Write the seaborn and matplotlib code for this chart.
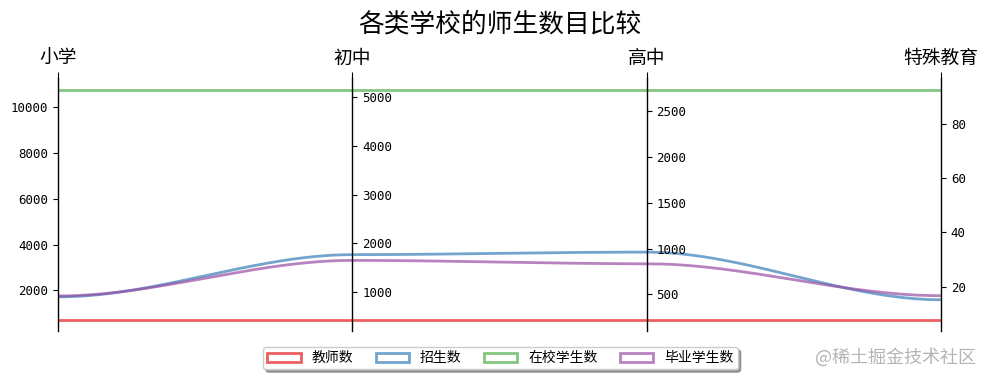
import numpy as np
import pandas as pd
import matplotlib
matplotlib.use("Agg")
import matplotlib.pyplot as plt
from matplotlib.path import Path
from matplotlib.patches import Rectangle
import seaborn as sns

# ---- data ----
axis_names = ["小学", "初中", "高中", "特殊教育"]
series_names = ["教师数", "招生数", "在校学生数", "毕业学生数"]
teachers = [732, 438, 227, 7.8]
enrolled = [1720, 1770, 962, 15.1]
students = [10743, 5150, 2729, 92.6]
graduates = [1760, 1652, 835, 16.6]

sns.set_style("ticks")
plt.rcParams["font.family"] = ["Noto Sans CJK SC", "DejaVu Sans"]
plt.rcParams["text.color"] = "black"
plt.rcParams["xtick.color"] = "black"
plt.rcParams["ytick.color"] = "black"
plt.rcParams["axes.labelcolor"] = "black"

ys = np.array([teachers, enrolled, students, graduates], dtype=float)
ymins = ys.min(axis=0)
ymaxs = ys.max(axis=0)
dys = ymaxs - ymins
ymins = ymins - dys * 0.05
ymaxs = ymaxs + dys * 0.05
dys = ymaxs - ymins

zs = np.zeros_like(ys)
zs[:, 0] = ys[:, 0]
zs[:, 1:] = (ys[:, 1:] - ymins[1:]) / dys[1:] * dys[0] + ymins[0]

palette = sns.color_palette("Set1", 4)
n = ys.shape[1]

fig = plt.figure(figsize=(9.89, 3.79), dpi=100)
host = fig.add_axes([0.0586, 0.1266, 0.8929, 0.6663])
axes = [host] + [host.twinx() for _ in range(n - 1)]
for i, ax in enumerate(axes):
    ax.set_ylim(ymins[i], ymaxs[i])
    ax.spines["top"].set_visible(False)
    ax.spines["bottom"].set_visible(False)
    for s in ax.spines.values():
        s.set_color("black")
        s.set_linewidth(1.0)
    ax.tick_params(axis="y", colors="black", length=3.5, width=0.8, labelsize=9)
    if ax is not host:
        ax.spines["left"].set_visible(False)
        ax.yaxis.set_ticks_position("right")
        ax.spines["right"].set_position(("axes", i / (n - 1)))
    for lab in ax.get_yticklabels():
        lab.set_fontfamily("DejaVu Sans Mono")
        lab.set_fontsize(9)
        lab.set_color("black")

host.set_xlim(0, n - 1)
host.set_xticks(range(n))
host.set_xticklabels(axis_names, fontsize=13.5, color="black")
host.tick_params(axis="x", which="major", pad=3, length=4, colors="black")
host.spines["right"].set_visible(False)
host.xaxis.tick_top()
fig.suptitle("各类学校的师生数目比较", fontsize=18.5, x=0.505, y=0.97,
             color="black")

# curves (cubic Bezier between axes), sampled and drawn with seaborn
rows = []
for j in range(ys.shape[0]):
    verts = list(zip(np.linspace(0, n - 1, n * 3 - 2),
                     np.repeat(zs[j, :], 3)[1:-1]))
    codes = [Path.MOVETO] + [Path.CURVE4] * (len(verts) - 1)
    path = Path(verts, codes)
    k = 0
    for seg, code in path.iter_bezier():
        for t in np.linspace(0, 1, 60):
            px, py = seg.point_at_t(t)
            rows.append(dict(series=series_names[j], x=px, y=py, order=k))
            k += 1
df = pd.DataFrame(rows)
sns.lineplot(data=df, x="x", y="y", hue="series", hue_order=series_names,
             palette=palette, sort=False, estimator=None, units="series",
             ax=host, linewidth=2, alpha=0.7, legend=False)
host.set_xlabel("")
host.set_ylabel("")
host.set_xlim(0, n - 1)
host.set_ylim(ymins[0], ymaxs[0])

handles = [Rectangle((0, 0), 1, 1, facecolor="none", edgecolor=c, alpha=0.7, linewidth=2)
           for c in palette]
leg = fig.legend(handles, series_names, loc="center", bbox_to_anchor=(0.506, 0.055),
                 ncol=4, fancybox=True, shadow=True, fontsize=10,
                 handlelength=2.4, handleheight=0.6, columnspacing=1.6,
                 borderpad=0.3, framealpha=1)

fig.text(0.987, 0.058, "@稀土掘金技术社区", ha="right", va="center",
         fontsize=13, color="#b4b4b4")

fig.savefig("out.png", dpi=100)
